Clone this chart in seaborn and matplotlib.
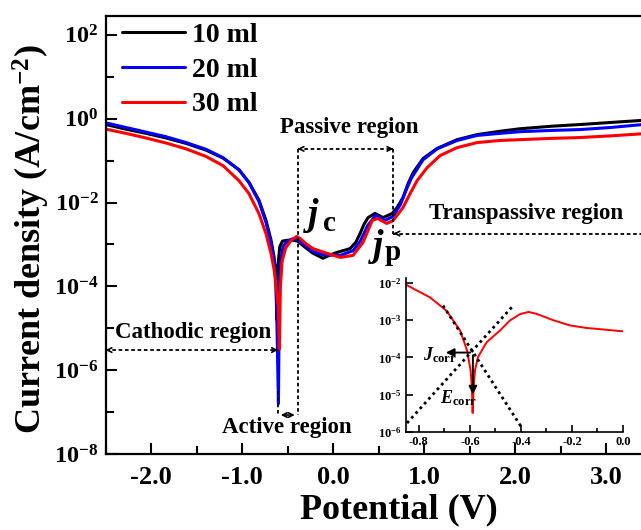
import numpy as np
import pandas as pd
import seaborn as sns
import matplotlib.pyplot as plt
from matplotlib.lines import Line2D
from matplotlib.ticker import FixedLocator, FixedFormatter, NullFormatter

#%% data (log10 of current density, A/cm2)
black_v = [-2.495, -2.275, -2.055, -1.835, -1.615, -1.396, -1.209, -1.033, -0.923, -0.813, -0.736,
           -0.681, -0.648, -0.630, -0.618, -0.605, -0.585, -0.555, -0.50, -0.44, -0.39, -0.30,
           -0.22, -0.11, -0.03, 0.044, 0.187, 0.25, 0.297, 0.34, 0.385, 0.46, 0.55, 0.65, 0.703,
           0.769, 0.824, 0.879, 0.989, 1.143, 1.363, 1.582, 1.835, 2.055, 2.40, 2.71, 3.05, 3.40]
black_logj = [-0.14, -0.25, -0.35, -0.46, -0.59, -0.75, -0.94, -1.22, -1.52, -1.95, -2.43,
              -2.9, -3.3, -3.7, -4.8, -3.5, -3.05, -2.92, -2.90, -2.90, -2.92, -3.08,
              -3.21, -3.33, -3.25, -3.19, -3.10, -2.95, -2.74, -2.52, -2.36, -2.26, -2.36, -2.26, -2.12,
              -1.88, -1.55, -1.29, -0.95, -0.71, -0.50, -0.38, -0.30, -0.24, -0.18, -0.14, -0.09, -0.04]

blue_v = [-2.495, -2.275, -2.055, -1.835, -1.615, -1.396, -1.209, -1.033, -0.923, -0.813, -0.736,
          -0.681, -0.648, -0.625, -0.600, -0.590, -0.575, -0.55, -0.50, -0.45, -0.40, -0.33,
          -0.22, -0.11, 0.08, 0.22, 0.30, 0.38, 0.47, 0.57, 0.66, 0.74, 0.80, 0.86, 0.989,
          1.143, 1.363, 1.582, 1.835, 2.055, 2.40, 2.71, 3.05, 3.40]
blue_logj = [-0.10, -0.21, -0.32, -0.43, -0.57, -0.73, -0.93, -1.22, -1.53, -1.98, -2.48,
             -2.97, -3.4, -3.9, -6.8, -4.2, -3.4, -3.05, -2.92, -2.87, -2.87, -2.98,
             -3.17, -3.25, -3.26, -3.15, -2.92, -2.55, -2.30, -2.43, -2.33, -2.05, -1.72, -1.42, -0.98,
             -0.72, -0.52, -0.40, -0.35, -0.31, -0.28, -0.26, -0.21, -0.14]

red_v = [-2.495, -2.275, -2.055, -1.835, -1.615, -1.396, -1.209, -1.033, -0.923, -0.813, -0.736,
         -0.681, -0.648, -0.62, -0.60, -0.59, -0.578, -0.56, -0.52, -0.46, -0.40, -0.36, -0.30,
         -0.22, -0.07, 0.08, 0.22, 0.33, 0.43, 0.49, 0.59, 0.66, 0.769, 0.846, 0.923, 1.033,
         1.176, 1.363, 1.582, 1.835, 2.055, 2.40, 2.71, 3.05, 3.40]
red_logj = [-0.25, -0.35, -0.46, -0.58, -0.72, -0.90, -1.12, -1.48, -1.79, -2.27, -2.75,
            -3.22, -3.6, -4.1, -4.5, -5.5, -4.0, -3.4, -3.08, -2.9, -2.81, -2.86, -2.98,
            -3.10, -3.21, -3.31, -3.26, -2.95, -2.43, -2.38, -2.50, -2.43, -2.12, -1.79, -1.48, -1.17,
            -0.88, -0.69, -0.57, -0.52, -0.50, -0.47, -0.45, -0.41, -0.36]

labels = ["10 ml", "20 ml", "30 ml"]
colors = ["black", "#0000ff", "#ff0000"]

# inset (30 ml, around Ecorr)
inset_v = [-0.85, -0.756, -0.691, -0.638, -0.611, -0.597, -0.592, -0.589, -0.585, -0.58, -0.568,
           -0.534, -0.482, -0.443, -0.404, -0.37, -0.339, -0.274, -0.209, -0.143, -0.078, 0.0]
inset_logj = [-2.05, -2.39, -2.75, -3.28, -3.81, -4.35, -4.8, -5.49, -4.8, -4.35, -3.99,
              -3.59, -3.28, -3.01, -2.84, -2.78, -2.83, -3.0, -3.14, -3.21, -3.25, -3.3]
tafel_cath_v = [-0.705, -0.396]
tafel_cath_logj = [-2.61, -5.89]
tafel_anod_v = [-0.846, -0.43]
tafel_anod_logj = [-5.76, -2.61]
e_corr = -0.588
logj_corr = -3.87

main_yticks = [-8, -6, -4, -2, 0, 2]
main_xticks = [-2.0, -1.0, 0.0, 1.0, 2.0, 3.0]
inset_xticks = [-0.8, -0.6, -0.4, -0.2, 0.0]
inset_yticks = [-6, -5, -4, -3, -2]

#%% style
sns.set_theme(style="ticks")
plt.rcParams['font.family'] = ['Liberation Serif', 'DejaVu Serif']
plt.rcParams['font.weight'] = 'bold'
plt.rcParams['mathtext.fontset'] = 'custom'
plt.rcParams['mathtext.rm'] = 'Liberation Serif:bold'
plt.rcParams['mathtext.it'] = 'Liberation Serif:italic:bold'
plt.rcParams['mathtext.bf'] = 'Liberation Serif:bold'
for k in ['text.color', 'axes.labelcolor', 'xtick.color', 'ytick.color', 'axes.edgecolor']:
    plt.rcParams[k] = 'black'

df = pd.concat([
    pd.DataFrame({"V": v, "J": np.power(10.0, lj), "sample": lab})
    for v, lj, lab in zip([black_v, blue_v, red_v], [black_logj, blue_logj, red_logj], labels)
])

fig = plt.figure(figsize=(6.41, 5.30), dpi=100)
ax = fig.add_axes([105.5 / 641, 76 / 530, 537 / 641, 438 / 530])
sns.lineplot(data=df, x="V", y="J", hue="sample", palette=colors, sort=False,
             estimator=None, lw=2.2, ax=ax, legend=False)
ax.set_yscale('log')
ax.set_xlim(-2.5, 3.4)
ax.set_ylim(1e-8, 10 ** 2.45)

ax.xaxis.set_major_locator(FixedLocator(main_xticks))
ax.xaxis.set_major_formatter(FixedFormatter(["%.1f" % t for t in main_xticks]))
ax.xaxis.set_minor_locator(FixedLocator(np.arange(-2.5, 3.5, 1.0)))
ax.yaxis.set_major_locator(FixedLocator([10.0 ** t for t in main_yticks]))
ax.yaxis.set_major_formatter(FixedFormatter([r"$10^{%d}$" % t for t in main_yticks]))
ax.yaxis.set_minor_locator(FixedLocator([10.0 ** t for t in range(-7, 2, 2)]))
ax.yaxis.set_minor_formatter(NullFormatter())
ax.tick_params(which='both', direction='in', width=1.5)
ax.tick_params(which='major', length=8)
ax.tick_params(which='minor', length=6)
ax.tick_params(axis='x', pad=9, labelsize=19)
ax.tick_params(axis='y', pad=5, labelsize=17.5)
for s in ax.spines.values():
    s.set_linewidth(1.6)
ax.set_xlabel("Potential (V)", fontsize=26, fontweight='bold')
ax.set_ylabel(r"Current density (A/cm$^{-2}$)", fontsize=26, fontweight='bold')
ax.xaxis.set_label_coords(0.546, -0.09)
ax.yaxis.set_label_coords(-0.10, 0.49)

handles = [Line2D([], [], color=c, lw=2.2) for c in colors]
ax.legend(handles, labels, loc='upper left', bbox_to_anchor=(0.03, 0.985), frameon=False,
          prop={'family': 'Liberation Serif', 'weight': 'bold', 'size': 20},
          handlelength=2.3, handletextpad=0.22, labelspacing=0.33, borderaxespad=0,
          borderpad=0)

#%% region guides
dot = dict(color='black', lw=1.3, ls=(0, (2, 1.5)))
arr = dict(arrowstyle='->', color='black', lw=1.2, mutation_scale=8)

def guide(x0, y0, x1, y1, heads=(True, True)):
    ax.plot([x0, x1], [y0, y1], **dot)
    if heads[0]:
        ax.annotate('', xy=(x0, y0), xytext=(x0 + (x1 - x0) * 0.02, y0 * (y1 / y0) ** 0.02),
                    arrowprops=arr)
    if heads[1]:
        ax.annotate('', xy=(x1, y1), xytext=(x1 - (x1 - x0) * 0.02, y1 / (y1 / y0) ** 0.02),
                    arrowprops=arr)

y_cath = 10 ** -5.52
y_act = 10 ** -7.07
y_pass = 10 ** -0.72
y_trans = 10 ** -2.74
x_a0, x_a1, x_p1 = -0.604, -0.39, 0.663

guide(-2.5, y_cath, x_a0, y_cath)
ax.plot([x_a0, x_a0], [10 ** -6.5, y_act], **dot)
ax.plot([x_a1, x_a1], [y_pass, y_act], **dot)
ax.annotate('', xy=(x_a0, y_act), xytext=(x_a1, y_act),
            arrowprops=dict(arrowstyle='<->', color='black', lw=1.2, mutation_scale=8))
guide(x_a1, y_pass, x_p1, y_pass)
ax.plot([x_p1, x_p1], [y_pass, y_trans], **dot)
guide(x_p1, y_trans, 3.4, y_trans, heads=(True, False))

tkw = dict(fontsize=16.5, fontweight='bold', ha='center', va='center')
ax.text(-1.54, 10 ** -5.10, "Cathodic region", **tkw)
ax.text(-0.505, 10 ** -7.36, "Active region", **tkw)
ax.text(0.176, 10 ** -0.21, "Passive region", **tkw)
ax.text(2.12, 10 ** -2.26, "Transpassive region", **tkw)

jkw = dict(fontsize=27, fontweight='bold', style='italic', ha='center', va='center')
skw = dict(fontsize=21, fontweight='bold', ha='center', va='center')
ax.text(-0.22, 10 ** -2.31, "j", **jkw)
ax.text(-0.035, 10 ** -2.50, "c", **skw)
ax.text(0.495, 10 ** -3.05, "j", **jkw)
ax.text(0.66, 10 ** -3.20, "p", **skw)

#%% inset
axi = fig.add_axes([406 / 641, (530 - 432) / 530, 217 / 641, 154 / 530])
axi.patch.set_alpha(0)
sns.lineplot(x=inset_v, y=np.power(10.0, inset_logj), color='#ff0000', lw=1.4, sort=False,
             estimator=None, ax=axi)
axi.plot(tafel_cath_v, np.power(10.0, tafel_cath_logj), color='black', lw=2, ls=(0, (1, 1.3)))
axi.plot(tafel_anod_v, np.power(10.0, tafel_anod_logj), color='black', lw=2, ls=(0, (1, 1.3)))
axi.set_yscale('log')
axi.set_xlim(-0.85, 0.0)
axi.set_ylim(1e-6, 10 ** -1.87)
axi.annotate('', xy=(-0.705, 10 ** logj_corr), xytext=(e_corr, 10 ** logj_corr),
             arrowprops=dict(arrowstyle='-|>', color='black', lw=1.4, mutation_scale=12))
axi.annotate('', xy=(e_corr, 10 ** -5.07), xytext=(e_corr, 10 ** logj_corr),
             arrowprops=dict(arrowstyle='-|>', color='black', lw=1.4, mutation_scale=12))
axi.text(-0.717, 10 ** -3.95, r"$J_{\mathrm{corr}}$", fontsize=13, ha='center', va='center')
axi.text(-0.646, 10 ** -5.09, r"$E_{\mathrm{corr}}$", fontsize=13, ha='center', va='center')

axi.xaxis.set_major_locator(FixedLocator(inset_xticks))
axi.xaxis.set_major_formatter(FixedFormatter(["%.1f" % t for t in inset_xticks]))
axi.xaxis.set_minor_locator(FixedLocator(np.arange(-0.7, 0.0, 0.2)))
axi.yaxis.set_major_locator(FixedLocator([10.0 ** t for t in inset_yticks]))
axi.yaxis.set_major_formatter(FixedFormatter([r"$10^{%d}$" % t for t in inset_yticks]))
axi.yaxis.set_minor_locator(FixedLocator([]))
axi.yaxis.set_minor_formatter(NullFormatter())
axi.tick_params(which='both', direction='in', width=1.2, labelsize=9, pad=3)
axi.tick_params(which='major', length=5)
axi.tick_params(which='minor', length=3)
axi.set_xlabel('')
axi.set_ylabel('')
for side in ['top', 'right']:
    axi.spines[side].set_visible(False)
for side in ['left', 'bottom']:
    axi.spines[side].set_linewidth(1.2)

fig.savefig("out.png", dpi=100)
